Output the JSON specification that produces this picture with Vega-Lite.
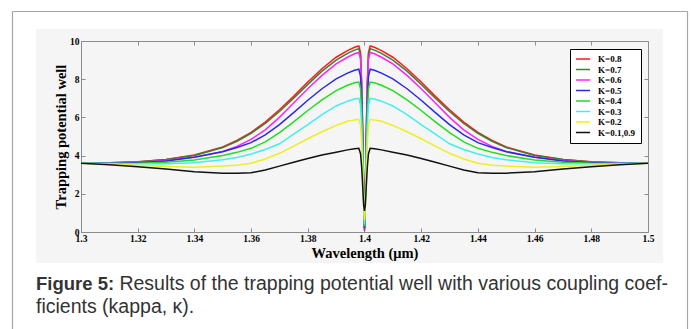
{
  "$schema": "https://vega.github.io/schema/vega-lite/v6.json",
  "width": 627,
  "height": 234,
  "autosize": {"type": "none"},
  "padding": {"left": 36, "top": 29, "right": 28, "bottom": 66},
  "background": "white",
  "title": {
    "text": "Figure 5:",
    "subtitle": ["\u200b\u2002\u2002\u2002\u2002\u2002\u2002\u2002\u2002\u00a0Results of the trapping potential well with various coupling coef-", "ficients (kappa, κ)."],
    "orient": "bottom",
    "anchor": "start",
    "frame": "group",
    "font": "Liberation Sans",
    "fontSize": 18.5,
    "fontWeight": "bold",
    "color": "#333333",
    "subtitleFont": "Liberation Sans",
    "subtitleFontSize": 19.5,
    "subtitleFontWeight": "normal",
    "subtitleColor": "#333333",
    "subtitleLineHeight": 23,
    "subtitlePadding": -19,
    "offset": -72
  },
  "datasets": {
    "curves": [
      {"k":"K=0.8","w":1.3,"v":3.6},{"k":"K=0.8","w":1.31,"v":3.62},{"k":"K=0.8","w":1.32,"v":3.68},{"k":"K=0.8","w":1.33,"v":3.8},{"k":"K=0.8","w":1.34,"v":4.03},{"k":"K=0.8","w":1.35,"v":4.45},{"k":"K=0.8","w":1.355,"v":4.8},{"k":"K=0.8","w":1.36,"v":5.22},{"k":"K=0.8","w":1.365,"v":5.75},{"k":"K=0.8","w":1.37,"v":6.4},{"k":"K=0.8","w":1.375,"v":7.1},{"k":"K=0.8","w":1.38,"v":7.85},{"k":"K=0.8","w":1.385,"v":8.55},{"k":"K=0.8","w":1.39,"v":9.15},{"k":"K=0.8","w":1.394,"v":9.5},{"k":"K=0.8","w":1.3965,"v":9.67},{"k":"K=0.8","w":1.398,"v":9.74},{"k":"K=0.8","w":1.3986,"v":9.4},{"k":"K=0.8","w":1.399,"v":7.8},{"k":"K=0.8","w":1.3994,"v":5.0},{"k":"K=0.8","w":1.3997,"v":2.2},{"k":"K=0.8","w":1.4,"v":0.05},{"k":"K=0.8","w":1.4003,"v":2.2},{"k":"K=0.8","w":1.4006,"v":5.0},{"k":"K=0.8","w":1.401,"v":7.8},{"k":"K=0.8","w":1.4014,"v":9.4},{"k":"K=0.8","w":1.402,"v":9.74},{"k":"K=0.8","w":1.4035,"v":9.67},{"k":"K=0.8","w":1.406,"v":9.5},{"k":"K=0.8","w":1.41,"v":9.15},{"k":"K=0.8","w":1.415,"v":8.55},{"k":"K=0.8","w":1.42,"v":7.85},{"k":"K=0.8","w":1.425,"v":7.1},{"k":"K=0.8","w":1.43,"v":6.4},{"k":"K=0.8","w":1.435,"v":5.75},{"k":"K=0.8","w":1.44,"v":5.22},{"k":"K=0.8","w":1.445,"v":4.8},{"k":"K=0.8","w":1.45,"v":4.45},{"k":"K=0.8","w":1.46,"v":4.03},{"k":"K=0.8","w":1.47,"v":3.8},{"k":"K=0.8","w":1.48,"v":3.68},{"k":"K=0.8","w":1.49,"v":3.62},{"k":"K=0.8","w":1.5,"v":3.6},

      {"k":"K=0.7","w":1.3,"v":3.6},{"k":"K=0.7","w":1.31,"v":3.62},{"k":"K=0.7","w":1.32,"v":3.67},{"k":"K=0.7","w":1.33,"v":3.79},{"k":"K=0.7","w":1.34,"v":4.01},{"k":"K=0.7","w":1.35,"v":4.42},{"k":"K=0.7","w":1.355,"v":4.75},{"k":"K=0.7","w":1.36,"v":5.17},{"k":"K=0.7","w":1.365,"v":5.68},{"k":"K=0.7","w":1.37,"v":6.31},{"k":"K=0.7","w":1.375,"v":7.0},{"k":"K=0.7","w":1.38,"v":7.73},{"k":"K=0.7","w":1.385,"v":8.42},{"k":"K=0.7","w":1.39,"v":9.0},{"k":"K=0.7","w":1.394,"v":9.35},{"k":"K=0.7","w":1.3965,"v":9.52},{"k":"K=0.7","w":1.398,"v":9.6},{"k":"K=0.7","w":1.3986,"v":9.25},{"k":"K=0.7","w":1.399,"v":7.7},{"k":"K=0.7","w":1.3994,"v":4.9},{"k":"K=0.7","w":1.3997,"v":2.2},{"k":"K=0.7","w":1.4,"v":0.1},{"k":"K=0.7","w":1.4003,"v":2.2},{"k":"K=0.7","w":1.4006,"v":4.9},{"k":"K=0.7","w":1.401,"v":7.7},{"k":"K=0.7","w":1.4014,"v":9.25},{"k":"K=0.7","w":1.402,"v":9.6},{"k":"K=0.7","w":1.4035,"v":9.52},{"k":"K=0.7","w":1.406,"v":9.35},{"k":"K=0.7","w":1.41,"v":9.0},{"k":"K=0.7","w":1.415,"v":8.42},{"k":"K=0.7","w":1.42,"v":7.73},{"k":"K=0.7","w":1.425,"v":7.0},{"k":"K=0.7","w":1.43,"v":6.31},{"k":"K=0.7","w":1.435,"v":5.68},{"k":"K=0.7","w":1.44,"v":5.17},{"k":"K=0.7","w":1.445,"v":4.75},{"k":"K=0.7","w":1.45,"v":4.42},{"k":"K=0.7","w":1.46,"v":4.01},{"k":"K=0.7","w":1.47,"v":3.79},{"k":"K=0.7","w":1.48,"v":3.67},{"k":"K=0.7","w":1.49,"v":3.62},{"k":"K=0.7","w":1.5,"v":3.6},

      {"k":"K=0.6","w":1.3,"v":3.6},{"k":"K=0.6","w":1.31,"v":3.61},{"k":"K=0.6","w":1.32,"v":3.65},{"k":"K=0.6","w":1.33,"v":3.74},{"k":"K=0.6","w":1.34,"v":3.92},{"k":"K=0.6","w":1.35,"v":4.22},{"k":"K=0.6","w":1.355,"v":4.48},{"k":"K=0.6","w":1.36,"v":4.85},{"k":"K=0.6","w":1.365,"v":5.35},{"k":"K=0.6","w":1.37,"v":6.0},{"k":"K=0.6","w":1.375,"v":6.75},{"k":"K=0.6","w":1.38,"v":7.5},{"k":"K=0.6","w":1.385,"v":8.2},{"k":"K=0.6","w":1.39,"v":8.8},{"k":"K=0.6","w":1.394,"v":9.15},{"k":"K=0.6","w":1.3965,"v":9.33},{"k":"K=0.6","w":1.398,"v":9.4},{"k":"K=0.6","w":1.3986,"v":9.05},{"k":"K=0.6","w":1.399,"v":7.5},{"k":"K=0.6","w":1.3994,"v":4.7},{"k":"K=0.6","w":1.3997,"v":2.0},{"k":"K=0.6","w":1.4,"v":0.15},{"k":"K=0.6","w":1.4003,"v":2.0},{"k":"K=0.6","w":1.4006,"v":4.7},{"k":"K=0.6","w":1.401,"v":7.5},{"k":"K=0.6","w":1.4014,"v":9.05},{"k":"K=0.6","w":1.402,"v":9.4},{"k":"K=0.6","w":1.4035,"v":9.33},{"k":"K=0.6","w":1.406,"v":9.15},{"k":"K=0.6","w":1.41,"v":8.8},{"k":"K=0.6","w":1.415,"v":8.2},{"k":"K=0.6","w":1.42,"v":7.5},{"k":"K=0.6","w":1.425,"v":6.75},{"k":"K=0.6","w":1.43,"v":6.0},{"k":"K=0.6","w":1.435,"v":5.35},{"k":"K=0.6","w":1.44,"v":4.85},{"k":"K=0.6","w":1.445,"v":4.48},{"k":"K=0.6","w":1.45,"v":4.22},{"k":"K=0.6","w":1.46,"v":3.92},{"k":"K=0.6","w":1.47,"v":3.74},{"k":"K=0.6","w":1.48,"v":3.65},{"k":"K=0.6","w":1.49,"v":3.61},{"k":"K=0.6","w":1.5,"v":3.6},

      {"k":"K=0.5","w":1.3,"v":3.6},{"k":"K=0.5","w":1.31,"v":3.6},{"k":"K=0.5","w":1.32,"v":3.63},{"k":"K=0.5","w":1.33,"v":3.72},{"k":"K=0.5","w":1.34,"v":3.91},{"k":"K=0.5","w":1.35,"v":4.2},{"k":"K=0.5","w":1.355,"v":4.42},{"k":"K=0.5","w":1.36,"v":4.68},{"k":"K=0.5","w":1.365,"v":5.08},{"k":"K=0.5","w":1.37,"v":5.62},{"k":"K=0.5","w":1.375,"v":6.25},{"k":"K=0.5","w":1.38,"v":6.9},{"k":"K=0.5","w":1.385,"v":7.5},{"k":"K=0.5","w":1.39,"v":8.02},{"k":"K=0.5","w":1.394,"v":8.32},{"k":"K=0.5","w":1.3965,"v":8.47},{"k":"K=0.5","w":1.398,"v":8.52},{"k":"K=0.5","w":1.3986,"v":8.15},{"k":"K=0.5","w":1.399,"v":6.8},{"k":"K=0.5","w":1.3994,"v":4.3},{"k":"K=0.5","w":1.3997,"v":1.9},{"k":"K=0.5","w":1.4,"v":0.2},{"k":"K=0.5","w":1.4003,"v":1.9},{"k":"K=0.5","w":1.4006,"v":4.3},{"k":"K=0.5","w":1.401,"v":6.8},{"k":"K=0.5","w":1.4014,"v":8.15},{"k":"K=0.5","w":1.402,"v":8.52},{"k":"K=0.5","w":1.4035,"v":8.47},{"k":"K=0.5","w":1.406,"v":8.32},{"k":"K=0.5","w":1.41,"v":8.02},{"k":"K=0.5","w":1.415,"v":7.5},{"k":"K=0.5","w":1.42,"v":6.9},{"k":"K=0.5","w":1.425,"v":6.25},{"k":"K=0.5","w":1.43,"v":5.62},{"k":"K=0.5","w":1.435,"v":5.08},{"k":"K=0.5","w":1.44,"v":4.68},{"k":"K=0.5","w":1.445,"v":4.42},{"k":"K=0.5","w":1.45,"v":4.2},{"k":"K=0.5","w":1.46,"v":3.91},{"k":"K=0.5","w":1.47,"v":3.72},{"k":"K=0.5","w":1.48,"v":3.63},{"k":"K=0.5","w":1.49,"v":3.6},{"k":"K=0.5","w":1.5,"v":3.6},

      {"k":"K=0.4","w":1.3,"v":3.6},{"k":"K=0.4","w":1.31,"v":3.59},{"k":"K=0.4","w":1.32,"v":3.6},{"k":"K=0.4","w":1.33,"v":3.65},{"k":"K=0.4","w":1.34,"v":3.77},{"k":"K=0.4","w":1.35,"v":4.0},{"k":"K=0.4","w":1.355,"v":4.17},{"k":"K=0.4","w":1.36,"v":4.38},{"k":"K=0.4","w":1.365,"v":4.72},{"k":"K=0.4","w":1.37,"v":5.2},{"k":"K=0.4","w":1.375,"v":5.77},{"k":"K=0.4","w":1.38,"v":6.36},{"k":"K=0.4","w":1.385,"v":6.92},{"k":"K=0.4","w":1.39,"v":7.4},{"k":"K=0.4","w":1.394,"v":7.68},{"k":"K=0.4","w":1.3965,"v":7.81},{"k":"K=0.4","w":1.398,"v":7.85},{"k":"K=0.4","w":1.3986,"v":7.5},{"k":"K=0.4","w":1.399,"v":6.3},{"k":"K=0.4","w":1.3994,"v":4.0},{"k":"K=0.4","w":1.3997,"v":1.8},{"k":"K=0.4","w":1.4,"v":0.3},{"k":"K=0.4","w":1.4003,"v":1.8},{"k":"K=0.4","w":1.4006,"v":4.0},{"k":"K=0.4","w":1.401,"v":6.3},{"k":"K=0.4","w":1.4014,"v":7.5},{"k":"K=0.4","w":1.402,"v":7.85},{"k":"K=0.4","w":1.4035,"v":7.81},{"k":"K=0.4","w":1.406,"v":7.68},{"k":"K=0.4","w":1.41,"v":7.4},{"k":"K=0.4","w":1.415,"v":6.92},{"k":"K=0.4","w":1.42,"v":6.36},{"k":"K=0.4","w":1.425,"v":5.77},{"k":"K=0.4","w":1.43,"v":5.2},{"k":"K=0.4","w":1.435,"v":4.72},{"k":"K=0.4","w":1.44,"v":4.38},{"k":"K=0.4","w":1.445,"v":4.17},{"k":"K=0.4","w":1.45,"v":4.0},{"k":"K=0.4","w":1.46,"v":3.77},{"k":"K=0.4","w":1.47,"v":3.65},{"k":"K=0.4","w":1.48,"v":3.6},{"k":"K=0.4","w":1.49,"v":3.59},{"k":"K=0.4","w":1.5,"v":3.6},

      {"k":"K=0.3","w":1.3,"v":3.6},{"k":"K=0.3","w":1.31,"v":3.58},{"k":"K=0.3","w":1.32,"v":3.57},{"k":"K=0.3","w":1.33,"v":3.57},{"k":"K=0.3","w":1.34,"v":3.63},{"k":"K=0.3","w":1.35,"v":3.78},{"k":"K=0.3","w":1.355,"v":3.9},{"k":"K=0.3","w":1.36,"v":4.08},{"k":"K=0.3","w":1.365,"v":4.32},{"k":"K=0.3","w":1.37,"v":4.62},{"k":"K=0.3","w":1.375,"v":5.12},{"k":"K=0.3","w":1.38,"v":5.62},{"k":"K=0.3","w":1.385,"v":6.15},{"k":"K=0.3","w":1.39,"v":6.6},{"k":"K=0.3","w":1.394,"v":6.85},{"k":"K=0.3","w":1.3965,"v":6.96},{"k":"K=0.3","w":1.398,"v":7.0},{"k":"K=0.3","w":1.3986,"v":6.65},{"k":"K=0.3","w":1.399,"v":5.6},{"k":"K=0.3","w":1.3994,"v":3.6},{"k":"K=0.3","w":1.3997,"v":1.7},{"k":"K=0.3","w":1.4,"v":0.4},{"k":"K=0.3","w":1.4003,"v":1.7},{"k":"K=0.3","w":1.4006,"v":3.6},{"k":"K=0.3","w":1.401,"v":5.6},{"k":"K=0.3","w":1.4014,"v":6.65},{"k":"K=0.3","w":1.402,"v":7.0},{"k":"K=0.3","w":1.4035,"v":6.96},{"k":"K=0.3","w":1.406,"v":6.85},{"k":"K=0.3","w":1.41,"v":6.6},{"k":"K=0.3","w":1.415,"v":6.15},{"k":"K=0.3","w":1.42,"v":5.62},{"k":"K=0.3","w":1.425,"v":5.12},{"k":"K=0.3","w":1.43,"v":4.62},{"k":"K=0.3","w":1.435,"v":4.32},{"k":"K=0.3","w":1.44,"v":4.08},{"k":"K=0.3","w":1.445,"v":3.9},{"k":"K=0.3","w":1.45,"v":3.78},{"k":"K=0.3","w":1.46,"v":3.63},{"k":"K=0.3","w":1.47,"v":3.57},{"k":"K=0.3","w":1.48,"v":3.57},{"k":"K=0.3","w":1.49,"v":3.58},{"k":"K=0.3","w":1.5,"v":3.6},

      {"k":"K=0.2","w":1.3,"v":3.6},{"k":"K=0.2","w":1.31,"v":3.55},{"k":"K=0.2","w":1.32,"v":3.5},{"k":"K=0.2","w":1.33,"v":3.43},{"k":"K=0.2","w":1.34,"v":3.39},{"k":"K=0.2","w":1.35,"v":3.45},{"k":"K=0.2","w":1.355,"v":3.5},{"k":"K=0.2","w":1.36,"v":3.6},{"k":"K=0.2","w":1.365,"v":3.82},{"k":"K=0.2","w":1.37,"v":4.12},{"k":"K=0.2","w":1.375,"v":4.5},{"k":"K=0.2","w":1.38,"v":4.88},{"k":"K=0.2","w":1.385,"v":5.25},{"k":"K=0.2","w":1.39,"v":5.58},{"k":"K=0.2","w":1.394,"v":5.8},{"k":"K=0.2","w":1.3965,"v":5.87},{"k":"K=0.2","w":1.398,"v":5.9},{"k":"K=0.2","w":1.3986,"v":5.6},{"k":"K=0.2","w":1.399,"v":4.7},{"k":"K=0.2","w":1.3994,"v":3.0},{"k":"K=0.2","w":1.3997,"v":1.5},{"k":"K=0.2","w":1.4,"v":0.6},{"k":"K=0.2","w":1.4003,"v":1.5},{"k":"K=0.2","w":1.4006,"v":3.0},{"k":"K=0.2","w":1.401,"v":4.7},{"k":"K=0.2","w":1.4014,"v":5.6},{"k":"K=0.2","w":1.402,"v":5.9},{"k":"K=0.2","w":1.4035,"v":5.87},{"k":"K=0.2","w":1.406,"v":5.8},{"k":"K=0.2","w":1.41,"v":5.58},{"k":"K=0.2","w":1.415,"v":5.25},{"k":"K=0.2","w":1.42,"v":4.88},{"k":"K=0.2","w":1.425,"v":4.5},{"k":"K=0.2","w":1.43,"v":4.12},{"k":"K=0.2","w":1.435,"v":3.82},{"k":"K=0.2","w":1.44,"v":3.6},{"k":"K=0.2","w":1.445,"v":3.5},{"k":"K=0.2","w":1.45,"v":3.45},{"k":"K=0.2","w":1.46,"v":3.39},{"k":"K=0.2","w":1.47,"v":3.43},{"k":"K=0.2","w":1.48,"v":3.5},{"k":"K=0.2","w":1.49,"v":3.55},{"k":"K=0.2","w":1.5,"v":3.6},

      {"k":"K=0.1,0.9","w":1.3,"v":3.6},{"k":"K=0.1,0.9","w":1.31,"v":3.52},{"k":"K=0.1,0.9","w":1.32,"v":3.42},{"k":"K=0.1,0.9","w":1.33,"v":3.3},{"k":"K=0.1,0.9","w":1.34,"v":3.16},{"k":"K=0.1,0.9","w":1.35,"v":3.08},{"k":"K=0.1,0.9","w":1.355,"v":3.07},{"k":"K=0.1,0.9","w":1.36,"v":3.1},{"k":"K=0.1,0.9","w":1.365,"v":3.25},{"k":"K=0.1,0.9","w":1.37,"v":3.45},{"k":"K=0.1,0.9","w":1.375,"v":3.65},{"k":"K=0.1,0.9","w":1.38,"v":3.85},{"k":"K=0.1,0.9","w":1.385,"v":4.03},{"k":"K=0.1,0.9","w":1.39,"v":4.18},{"k":"K=0.1,0.9","w":1.394,"v":4.3},{"k":"K=0.1,0.9","w":1.3965,"v":4.36},{"k":"K=0.1,0.9","w":1.398,"v":4.38},{"k":"K=0.1,0.9","w":1.3986,"v":4.1},{"k":"K=0.1,0.9","w":1.399,"v":3.4},{"k":"K=0.1,0.9","w":1.3994,"v":2.3},{"k":"K=0.1,0.9","w":1.3997,"v":1.4},{"k":"K=0.1,0.9","w":1.4,"v":1.1},{"k":"K=0.1,0.9","w":1.4003,"v":1.4},{"k":"K=0.1,0.9","w":1.4006,"v":2.3},{"k":"K=0.1,0.9","w":1.401,"v":3.4},{"k":"K=0.1,0.9","w":1.4014,"v":4.1},{"k":"K=0.1,0.9","w":1.402,"v":4.38},{"k":"K=0.1,0.9","w":1.4035,"v":4.36},{"k":"K=0.1,0.9","w":1.406,"v":4.3},{"k":"K=0.1,0.9","w":1.41,"v":4.18},{"k":"K=0.1,0.9","w":1.415,"v":4.03},{"k":"K=0.1,0.9","w":1.42,"v":3.85},{"k":"K=0.1,0.9","w":1.425,"v":3.65},{"k":"K=0.1,0.9","w":1.43,"v":3.45},{"k":"K=0.1,0.9","w":1.435,"v":3.25},{"k":"K=0.1,0.9","w":1.44,"v":3.1},{"k":"K=0.1,0.9","w":1.445,"v":3.07},{"k":"K=0.1,0.9","w":1.45,"v":3.08},{"k":"K=0.1,0.9","w":1.46,"v":3.16},{"k":"K=0.1,0.9","w":1.47,"v":3.3},{"k":"K=0.1,0.9","w":1.48,"v":3.42},{"k":"K=0.1,0.9","w":1.49,"v":3.52},{"k":"K=0.1,0.9","w":1.5,"v":3.6}
    ]
  },
  "layer": [
    {
      "data": {"name": "curves"},
      "mark": {"type": "line", "strokeWidth": 1.5},
      "encoding": {
        "x": {
          "field": "w", "type": "quantitative",
          "scale": {"domain": [1.3, 1.5], "range": [45, 612], "nice": false, "zero": false},
          "axis": {
            "orient": "bottom", "offset": -31,
            "values": [1.3, 1.32, 1.34, 1.36, 1.38, 1.4, 1.42, 1.44, 1.46, 1.48, 1.5],
            "format": "~g", "labelFlush": false, "labelOverlap": false,
            "title": "Wavelength (μm)",
            "tickSize": -4, "labelPadding": 5.5,
            "labelFont": "Liberation Serif", "labelFontWeight": "bold", "labelFontSize": 9.5, "labelColor": "black",
            "titleFont": "Liberation Serif", "titleFontWeight": "bold", "titleFontSize": 14.5, "titleColor": "black", "titlePadding": 3,
            "grid": false
          }
        },
        "y": {
          "field": "v", "type": "quantitative",
          "scale": {"domain": [0, 10], "range": [203, 12], "nice": false, "zero": false},
          "axis": {
            "orient": "left", "offset": -45,
            "values": [0, 2, 4, 6, 8, 10],
            "labelFlush": false, "labelOverlap": false,
            "title": "Trapping potential well",
            "tickSize": -4, "labelPadding": 6,
            "labelFont": "Liberation Serif", "labelFontWeight": "bold", "labelFontSize": 9.5, "labelColor": "black",
            "titleFont": "Liberation Serif", "titleFontWeight": "bold", "titleFontSize": 14.5, "titleColor": "black", "titlePadding": 1,
            "grid": false
          }
        },
        "color": {
          "field": "k", "type": "nominal",
          "scale": {
            "domain": ["K=0.8", "K=0.7", "K=0.6", "K=0.5", "K=0.4", "K=0.3", "K=0.2", "K=0.1,0.9"],
            "range": ["#ff1a1a", "#3d7f2e", "#ff22ff", "#2a2ae6", "#22dd22", "#44eeee", "#eeee22", "#111111"]
          },
          "legend": {
            "orient": "none", "legendX": 534, "legendY": 20,
            "title": null,
            "strokeColor": "black", "fillColor": "white", "padding": 5.5, "cornerRadius": 0,
            "symbolType": "M-1.9,0H1.9", "symbolSize": 56, "symbolStrokeWidth": 1.5, "symbolOffset": 3,
            "labelOffset": 10.5, "rowPadding": 0.5,
            "labelFont": "Liberation Serif", "labelFontWeight": "bold", "labelFontSize": 9, "labelColor": "black"
          }
        }
      }
    },
    {
      "data": {"values": [{"w": 1.3, "v": 0}]},
      "mark": {"type": "point", "opacity": 0},
      "encoding": {
        "x": {
          "field": "w", "type": "quantitative",
          "scale": {"domain": [1.3, 1.5], "range": [45, 612], "nice": false, "zero": false},
          "axis": {
            "orient": "top", "offset": -12,
            "values": [1.3, 1.32, 1.34, 1.36, 1.38, 1.4, 1.42, 1.44, 1.46, 1.48, 1.5],
            "labels": false, "title": null, "tickSize": -4, "grid": false
          }
        },
        "y": {
          "field": "v", "type": "quantitative",
          "scale": {"domain": [0, 10], "range": [203, 12], "nice": false, "zero": false},
          "axis": {
            "orient": "right", "offset": -15,
            "values": [0, 2, 4, 6, 8, 10],
            "labels": false, "title": null, "tickSize": -4, "grid": false
          }
        }
      }
    },
    {
      "data": {"values": [{"a": 0, "b": 0}]},
      "mark": {"type": "point", "opacity": 0},
      "encoding": {
        "x": {
          "field": "a", "type": "quantitative",
          "scale": {"domain": [0, 1], "range": [-24, 651], "nice": false, "zero": false},
          "axis": {
            "orient": "top", "values": [0, 1], "grid": true, "gridColor": "#a6a6a6", "gridWidth": 1.2,
            "domain": false, "ticks": false, "labels": false, "title": null
          }
        },
        "y": {
          "field": "b", "type": "quantitative",
          "scale": {"domain": [0, 1], "range": [300, -18], "nice": false, "zero": false},
          "axis": {
            "orient": "left", "values": [1], "grid": true, "gridColor": "#a6a6a6", "gridWidth": 1.2,
            "domain": false, "ticks": false, "labels": false, "title": null
          }
        }
      }
    }
  ],
  "resolve": {"scale": {"x": "independent", "y": "independent"}},
  "config": {
    "view": {"fill": "#f5f5f5", "stroke": null},
    "axis": {"domainColor": "#8c8c8c", "tickColor": "#8c8c8c", "domainWidth": 1, "tickWidth": 1}
  }
}
